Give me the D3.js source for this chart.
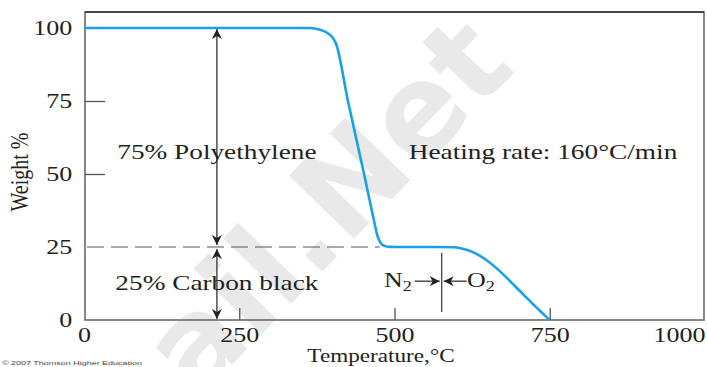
<!DOCTYPE html>
<html><head><meta charset="utf-8">
<script src="https://cdn.jsdelivr.net/npm/d3@7"></script>
<style>body{margin:0;background:#fff;overflow:hidden}</style></head>
<body>
<script>
// ---- data ----
const tempTicks = [0, 250, 500, 750, 1000];
const weightTicks = [0, 25, 50, 75, 100];
const innerWeightTicks = [50, 75];
const curveT = [0, 200, 364, 380, 392, 400, 406, 425, 451, 466, 473, 478, 484, 492, 505, 560, 595, 608, 620, 635, 650, 665, 680, 695, 710, 725, 740, 750];
const curveW = [100, 100, 100, 99.4, 98.3, 96.8, 94.5, 75, 50, 35, 28.5, 26.3, 25.4, 25.05, 25, 25, 24.9, 24.5, 23.8, 22.3, 20.2, 17.6, 14.6, 11.4, 8.2, 5.0, 2.0, 0];
const polymerShare = 75;   // % polyethylene
const carbonShare = 25;    // % carbon black
const arrowTemp = 214;     // temperature where the vertical arrows sit
const switchTemp = 576;    // N2 -> O2 switch temperature
const dashEndTemp = 476;   // where the dashed 25% line meets the curve

(function () {
const W = 707, H = 367;
const svg = d3.select("body").append("svg").attr("width", W).attr("height", H);

const x = d3.scaleLinear().domain([0, 1000]).range([84, 705]);
const y = d3.scaleLinear().domain([0, 100]).range([320, 28]);
const pLeft = 85, pRight = 704, pTop = 12, pBottom = 320;
const serif = "'Liberation Serif','DejaVu Serif',serif";
const SX = 1.3;

// watermark
svg.append("text")
  .attr("transform", "translate(196,402) rotate(-46)")
  .attr("font-family", "'DejaVu Sans',sans-serif")
  .attr("font-weight", "bold")
  .attr("font-size", 124)
  .attr("fill", "#e9e9e9")
  .text("ail.Net");

// frame
svg.append("rect").attr("x", pLeft).attr("y", pTop).attr("width", pRight - pLeft).attr("height", pBottom - pTop)
  .attr("fill", "none").attr("stroke", "#6a6a6a").attr("stroke-width", 1.6);
svg.append("line").attr("x1", pLeft).attr("x2", pRight).attr("y1", pTop).attr("y2", pTop)
  .attr("stroke", "#333").attr("stroke-width", 1.6);

// bottom axis: inner ticks
const xTickAxis = d3.axisBottom(x).tickValues(tempTicks.slice(1, 4)).tickSizeInner(-12).tickSizeOuter(0).tickFormat("");
const gxt = svg.append("g").attr("transform", `translate(0,${pBottom})`).call(xTickAxis);
gxt.select(".domain").remove();
gxt.selectAll("line").attr("stroke", "#555").attr("stroke-width", 1.3);

// bottom axis labels
const xLabAxis = d3.axisBottom(x).tickValues(tempTicks).tickSize(0).tickPadding(8).tickFormat(d3.format("d"));
const gxl = svg.append("g").attr("transform", `translate(0,${pBottom})`).call(xLabAxis);
gxl.select(".domain").remove();
gxl.selectAll("text").attr("font-family", serif).attr("font-size", 20).attr("fill", "#222")
  .attr("transform", `scale(${SX},1)`)
  .attr("text-anchor", d => d === 1000 ? "end" : "middle");

// left axis labels
const yLabAxis = d3.axisLeft(y).tickValues(weightTicks).tickSize(0).tickPadding(9).tickFormat(d3.format("d"));
const gyl = svg.append("g").attr("transform", `translate(${pLeft - 1},0)`).call(yLabAxis);
gyl.select(".domain").remove();
gyl.selectAll("text").attr("font-family", serif).attr("font-size", 20).attr("fill", "#222")
  .attr("transform", `scale(${SX},1)`);

// left axis inner ticks
const yTickAxis = d3.axisLeft(y).tickValues(innerWeightTicks).tickSizeInner(-20).tickSizeOuter(0).tickFormat("");
const gyt = svg.append("g").attr("transform", `translate(${pLeft},0)`).call(yTickAxis);
gyt.select(".domain").remove();
gyt.selectAll("line").attr("stroke", "#555").attr("stroke-width", 1.3);

// axis titles
svg.append("text")
  .attr("transform", `translate(381,362) scale(1.22,1)`)
  .attr("text-anchor", "middle").attr("font-family", serif).attr("font-size", 19).attr("fill", "#222")
  .text("Temperature,°C");
svg.append("text")
  .attr("transform", `translate(28,172) rotate(-90) scale(1,1.25)`)
  .attr("text-anchor", "middle").attr("font-family", serif).attr("font-size", 20).attr("fill", "#222")
  .text("Weight %");

// dashed 25% line
svg.append("line")
  .attr("x1", pLeft + 2).attr("x2", x(dashEndTemp))
  .attr("y1", y(carbonShare)).attr("y2", y(carbonShare))
  .attr("stroke", "#555").attr("stroke-width", 1.2).attr("stroke-dasharray", "17,7");

// arrow markers
const defs = svg.append("defs");
defs.append("marker").attr("id", "ah").attr("viewBox", "0 0 10 10").attr("refX", 10).attr("refY", 5)
  .attr("markerWidth", 10).attr("markerHeight", 10).attr("markerUnits", "userSpaceOnUse").attr("orient", "auto-start-reverse")
  .append("path").attr("d", "M0,0 L10,5 L0,10 L3,5 Z").attr("fill", "#222");

function arrowLine(x1, y1, x2, y2, both) {
  const l = svg.append("line").attr("x1", x1).attr("y1", y1).attr("x2", x2).attr("y2", y2)
    .attr("stroke", "#333").attr("stroke-width", 1.3).attr("marker-end", "url(#ah)");
  if (both) l.attr("marker-start", "url(#ah)");
  return l;
}
arrowLine(x(arrowTemp), y(100) + 1, x(arrowTemp), y(carbonShare) - 2, true);
arrowLine(x(arrowTemp), y(carbonShare) + 2, x(arrowTemp), y(0) - 1, true);

// switch line
svg.append("line").attr("x1", x(switchTemp)).attr("x2", x(switchTemp))
  .attr("y1", y(23)).attr("y2", y(2.7)).attr("stroke", "#444").attr("stroke-width", 1.3);
arrowLine(x(switchTemp) - 27, y(13.3), x(switchTemp) - 2, y(13.3), false);
arrowLine(x(switchTemp) + 25, y(13.3), x(switchTemp) + 2, y(13.3), false);

// TGA curve
const pts = curveT.map((t, i) => [t, curveW[i]]);
svg.append("path").datum(pts)
  .attr("fill", "none").attr("stroke", "#1aa0e6").attr("stroke-width", 2.6)
  .attr("d", d3.line().x(d => x(d[0])).y(d => y(d[1])).curve(d3.curveMonotoneX));

// annotation text
function label(tx, ty, str, anchor, fs) {
  return svg.append("text").attr("transform", `translate(${tx},${ty}) scale(${SX},1)`)
    .attr("text-anchor", anchor || "start").attr("font-family", serif).attr("font-size", fs || 21).attr("fill", "#222")
    .text(str);
}
label(x(arrowTemp), 159, `${polymerShare}% Polyethylene`, "middle");
label(x(arrowTemp), 290, `${carbonShare}% Carbon black`, "middle");
label(543, 159, "Heating rate: 160°C/min", "middle");
const n2 = label(384, 287, "N", "start", 20);
n2.append("tspan").attr("dy", 4).attr("font-size", 14).text("2");
const o2 = label(467, 287, "O", "start", 20);
o2.append("tspan").attr("dy", 4).attr("font-size", 14).text("2");

// copyright
svg.append("text").attr("x", 2).attr("y", 365).attr("font-family", "'Liberation Sans',Arial,sans-serif")
  .attr("font-size", 6).attr("fill", "#444").attr("textLength", 140).attr("lengthAdjust", "spacingAndGlyphs")
  .text("© 2007 Thomson Higher Education");
})();
</script>
</body></html>
